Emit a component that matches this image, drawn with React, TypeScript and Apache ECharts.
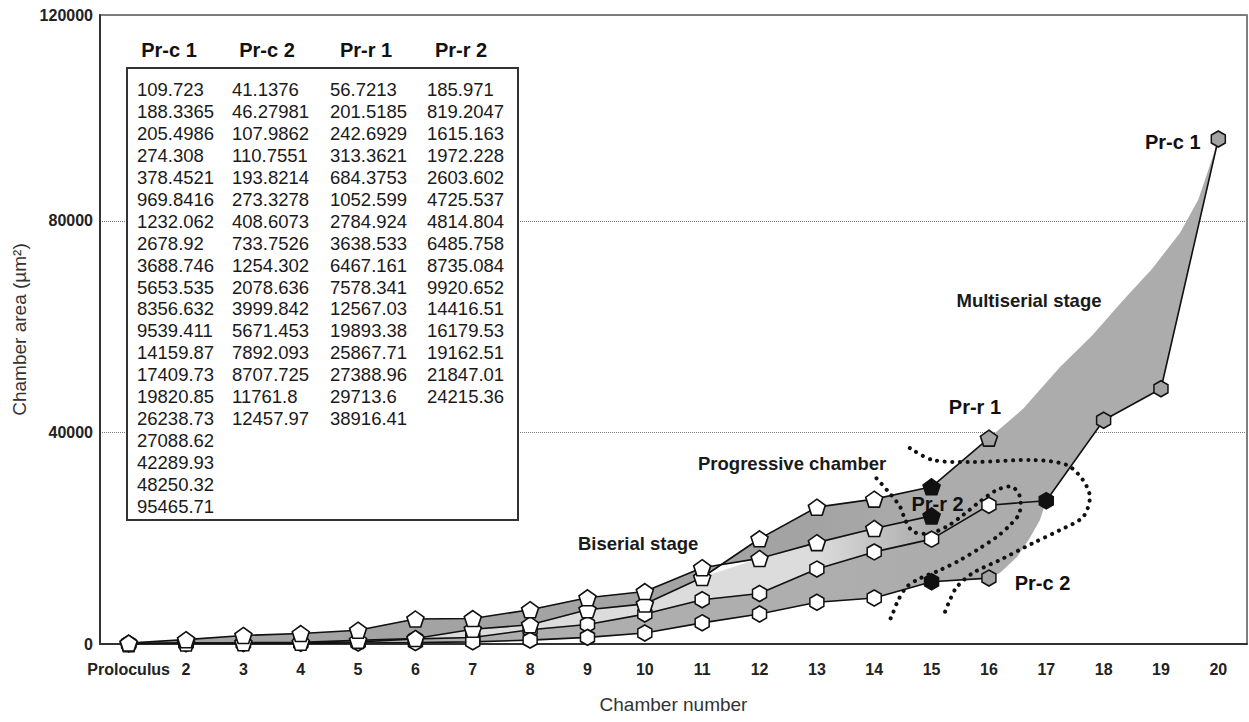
import React, { useEffect, useRef } from 'react';
import * as echarts from 'echarts';

// ---------- data ----------
const categories = ['Proloculus', '2', '3', '4', '5', '6', '7', '8', '9', '10', '11', '12', '13', '14', '15', '16', '17', '18', '19', '20'];
const seriesNames = ['Pr-c 1', 'Pr-c 2', 'Pr-r 1', 'Pr-r 2'];
const prc1 = [109.723, 188.3365, 205.4986, 274.308, 378.4521, 969.8416, 1232.062, 2678.92, 3688.746, 5653.535, 8356.632, 9539.411, 14159.87, 17409.73, 19820.85, 26238.73, 27088.62, 42289.93, 48250.32, 95465.71];
const prc2 = [41.1376, 46.27981, 107.9862, 110.7551, 193.8214, 273.3278, 408.6073, 733.7526, 1254.302, 2078.636, 3999.842, 5671.453, 7892.093, 8707.725, 11761.8, 12457.97];
const prr1 = [56.7213, 201.5185, 242.6929, 313.3621, 684.3753, 1052.599, 2784.924, 3638.533, 6467.161, 7578.341, 12567.03, 19893.38, 25867.71, 27388.96, 29713.6, 38916.41];
const prr2 = [185.971, 819.2047, 1615.163, 1972.228, 2603.602, 4725.537, 4814.804, 6485.758, 8735.084, 9920.652, 14416.51, 16179.53, 19162.51, 21847.01, 24215.36];
// chamber number of the progressive chamber of each specimen
const progressiveChamber = [17, 15, 15, 15];
// first chamber of the multiserial stage (null = not reached)
const multiserialFrom: (number | null)[] = [18, 16, 16, null];
const yTicks = [0, 40000, 80000, 120000];

// annotation outlines in (chamber number, area) coordinates
const multiserialUpperEdge = [[16.6, 44500], [17.24, 52350], [17.8, 58300], [18.34, 65000], [18.85, 71000], [19.33, 77700], [19.65, 84000], [19.9, 92000]];
const multiserialLowerEdge = [[16.89, 23440], [16.7, 19800], [16.49, 16440], [16.19, 13420]];
const progressiveOuter = [[14.62, 37044], [15.02, 34776], [15.72, 34398], [16.77, 34776], [17.36, 33831], [17.64, 30996], [17.76, 27783], [17.64, 24003], [17.24, 21546], [16.77, 19089], [16.19, 15876], [15.72, 13419], [15.44, 10773], [15.32, 8316], [15.2, 5103]];
const progressiveInner = [[14.04, 31324], [14.27, 28487], [14.45, 25955], [14.54, 23441], [14.68, 21229], [14.97, 20927], [15.26, 22174], [15.55, 24386], [15.84, 26900], [16.14, 29112], [16.4, 29736], [16.54, 27846], [16.53, 24707], [16.37, 22496], [16.14, 20284], [15.84, 18091], [15.5, 15879], [15.15, 13989], [14.8, 12420], [14.57, 10832], [14.42, 8318], [14.3, 5161], [14.24, 3970]];

const HEX = 'path://M0,-1L0.866,-0.5L0.866,0.5L0,1L-0.866,0.5L-0.866,-0.5Z';
const PENT = 'path://M0,-1L0.951,-0.309L0.588,0.809L-0.588,0.809L-0.951,-0.309Z';
const FONT = '"Liberation Sans", Arial, Helvetica, sans-serif';
const Y_MAX = 118900;

function buildSeriesData(values: number[], idx: number) {
  return values.map((v, i) => {
    const chamber = i + 1;
    let color = '#ffffff';
    if (chamber === progressiveChamber[idx]) color = '#111111';
    else if (multiserialFrom[idx] != null && chamber >= (multiserialFrom[idx] as number)) color = '#a3a3a3';
    return { value: v, itemStyle: { color } };
  });
}

export default function App() {
  const ref = useRef<HTMLDivElement>(null);
  useEffect(() => {
    document.body.style.margin = '0';
    if (!ref.current) return;
    const chart = echarts.init(ref.current, null, { renderer: 'svg' });

    const all = [prc1, prc2, prr1, prr2];
    const lineSeries = all.map((vals, idx) => {
      const data: any[] = buildSeriesData(vals, idx);
      const last = data.length - 1;
      const isHex = idx < 2;
      const labelBase = { show: true, formatter: seriesNames[idx], fontFamily: FONT, fontWeight: 'bold', fontSize: 20, color: '#111' };
      if (idx === 0) data[last].label = { ...labelBase, position: 'left', distance: 10, offset: [0, 3] };
      if (idx === 1) data[last].label = { ...labelBase, position: 'right', distance: 18, offset: [0, 5] };
      if (idx === 2) data[last].label = { ...labelBase, position: 'top', distance: 12, offset: [-14, 0] };
      if (idx === 3) data[last].label = { ...labelBase, position: 'inside', offset: [6, -12] };
      return {
        name: seriesNames[idx],
        type: 'line',
        xAxisIndex: 0,
        yAxisIndex: 0,
        data,
        symbol: isHex ? HEX : PENT,
        symbolSize: isHex ? [14, 16] : [17, 16],
        showAllSymbol: true,
        z: 5 + idx,
        lineStyle: { color: '#111', width: 1.6 },
        itemStyle: { borderColor: '#111', borderWidth: 1.6 },
        emphasis: { disabled: true },
      };
    });

    const shapesSeries = {
      type: 'custom',
      xAxisIndex: 1,
      yAxisIndex: 0,
      silent: true,
      clip: false,
      z: 2,
      data: [[1, 0]],
      encode: { x: 0, y: 1 },
      renderItem: (params: any, api: any) => {
        const P = (c: number, v: number) => api.coord([c, v]);
        const line = (vals: number[], from: number, to: number) => {
          const pts: number[][] = [];
          for (let c = from; c <= to; c++) pts.push(P(c, vals[c - 1]));
          return pts;
        };
        const minR = prr2.map((v, i) => Math.min(v, prr1[i]));
        const bandA = [...line(prr1, 1, 15), ...line(prr2, 1, 15).reverse()];
        const bandB = [...line(minR, 1, 15), ...line(prc1, 1, 15).reverse()];
        const bandC = [...line(prc1, 1, 16), ...line(prc2, 1, 16).reverse()];
        const blob = [
          ...line(prr1, 13, 16),
          ...multiserialUpperEdge.map(p => P(p[0], p[1])),
          ...line(prc1, 17, 20).reverse(),
          ...multiserialLowerEdge.map(p => P(p[0], p[1])),
          ...line(prc2, 13, 16).reverse(),
        ];
        const dotStyle = { fill: null, stroke: '#111', lineWidth: 4, lineDash: [0.1, 7.5], lineCap: 'round' };
        return {
          type: 'group',
          children: [
            { type: 'polygon', shape: { points: bandB }, style: { fill: '#dcdcdc', stroke: '#dcdcdc', lineWidth: 0.5 } },
            { type: 'polygon', shape: { points: bandA }, style: { fill: '#a3a3a3', stroke: '#a3a3a3', lineWidth: 0.5 } },
            { type: 'polygon', shape: { points: bandC }, style: { fill: '#aeaeae', stroke: '#aeaeae', lineWidth: 0.5 } },
            {
              type: 'polygon', shape: { points: blob },
              style: {
                fill: new echarts.graphic.LinearGradient(0, 0, 1, 0, [
                  { offset: 0, color: 'rgba(172,172,172,0)' },
                  { offset: 0.28, color: 'rgba(172,172,172,1)' },
                  { offset: 1, color: 'rgba(172,172,172,1)' },
                ]),
              },
            },
            { type: 'polyline', shape: { points: progressiveOuter.map(p => P(p[0], p[1])), smooth: 0.3 }, style: dotStyle, z2: 50 },
            { type: 'polyline', shape: { points: progressiveInner.map(p => P(p[0], p[1])), smooth: 0.3 }, style: dotStyle, z2: 50 },
          ],
        };
      },
    };

    const colX = [137, 232, 330, 427];
    const headX = [169, 267, 366, 461];
    const tableGraphics: any[] = [
      { type: 'rect', shape: { x: 127, y: 68, width: 391, height: 452 }, style: { fill: '#fff', stroke: '#333', lineWidth: 2 }, z: 100 },
    ];
    all.forEach((vals, i) => {
      tableGraphics.push({
        type: 'text', x: headX[i], y: 50, z: 101,
        style: { text: seriesNames[i], font: `bold 20px ${FONT}`, fill: '#111', align: 'center', verticalAlign: 'middle' },
      });
      tableGraphics.push({
        type: 'text', x: colX[i], y: 79, z: 101,
        style: { text: vals.map(v => String(v)).join('\n'), font: `18.5px ${FONT}`, lineHeight: 21.9, fill: '#1a1a1a', align: 'left', verticalAlign: 'top' },
      });
    });
    const annot = (text: string, x: number, y: number, align: string) => ({
      type: 'text', x, y, z: 100,
      style: { text, font: `bold 18.5px ${FONT}`, fill: '#1a1a1a', align, verticalAlign: 'middle' },
    });

    chart.setOption({
      animation: false,
      backgroundColor: '#ffffff',
      grid: { left: 100, right: 2, top: 15, bottom: 78, show: true, borderColor: '#555', borderWidth: 1.5, containLabel: false },
      xAxis: [
        {
          type: 'category',
          data: categories,
          boundaryGap: true,
          axisTick: { show: false },
          axisLine: { lineStyle: { color: '#333', width: 2 } },
          axisLabel: { interval: 0, fontFamily: FONT, fontWeight: 'bold', fontSize: 16, color: '#222', margin: 17 },
          name: 'Chamber number',
          nameLocation: 'middle',
          nameGap: 51,
          nameTextStyle: { fontFamily: FONT, fontSize: 19, color: '#333' },
          splitLine: { show: false },
        },
        { type: 'value', min: 0.5, max: 20.5, show: false, gridIndex: 0 },
      ],
      yAxis: {
        type: 'value',
        min: yTicks[0],
        max: Y_MAX,
        interval: yTicks[1] - yTicks[0],
        axisLine: { show: true, lineStyle: { color: '#333', width: 2 } },
        axisTick: { show: false },
        axisLabel: {
          showMaxLabel: true,
          fontFamily: FONT, fontWeight: 'bold', fontSize: 16, color: '#222', margin: 7,
          formatter: (v: number) => (v >= Y_MAX - 1 ? String(yTicks[3]) : String(v)),
        },
        splitLine: { show: true, lineStyle: { type: 'dotted', color: '#777', width: 1 } },
        name: 'Chamber area (µm²)',
        nameLocation: 'middle',
        nameGap: 68,
        nameTextStyle: { fontFamily: FONT, fontSize: 19, color: '#333' },
      },
      graphic: [
        ...tableGraphics,
        annot('Multiserial stage', 1029, 300, 'center'),
        annot('Progressive chamber', 698, 463, 'left'),
        annot('Biserial stage', 578, 543, 'left'),
      ],
      series: [shapesSeries, ...lineSeries],
    });
    return () => chart.dispose();
  }, []);
  return <div ref={ref} style={{ width: 1249, height: 722 }} />;
}
